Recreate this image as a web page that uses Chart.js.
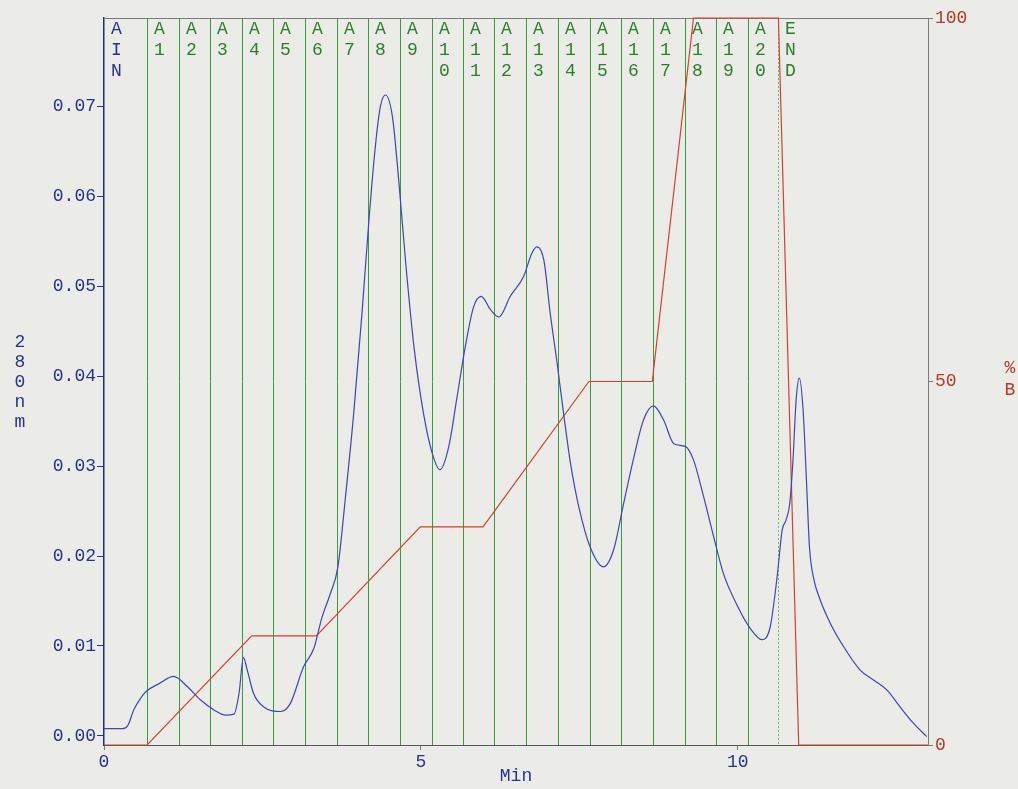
<!DOCTYPE html>
<html>
<head>
<meta charset="utf-8">
<title>280 nm / %B</title>
<script src="https://cdn.jsdelivr.net/npm/chart.js@4/dist/chart.umd.min.js"></script>
<style>
  html, body { margin: 0; padding: 0; background: #ebebe7; }
  canvas { display: block; }
</style>
</head>
<body>
<canvas id="chart" width="1018" height="789"></canvas>
<script>
// Absorbance trace at 280 nm (min, AU)
const absTime = [0, 0.30, 0.38, 0.47, 0.58, 0.66, 0.87, 1.10, 1.31, 1.52, 1.73, 1.92, 2.05, 2.13, 2.20, 2.26, 2.36, 2.52, 2.79, 2.94,
  3.15, 3.31, 3.44, 3.57, 3.69, 3.81, 3.94, 4.07, 4.18, 4.28, 4.36, 4.44, 4.55, 4.65, 4.76, 4.89, 5.04, 5.18, 5.30, 5.44,
  5.57, 5.70, 5.83, 5.95, 6.10, 6.23, 6.41, 6.62, 6.75, 6.83, 6.94, 7.04, 7.15, 7.25, 7.36, 7.49, 7.67, 7.88, 8.04, 8.20,
  8.36, 8.51, 8.67, 8.83, 8.99, 9.17, 9.30, 9.46, 9.62, 9.77, 9.99, 10.20, 10.38, 10.51, 10.62, 10.70, 10.76, 10.82, 10.87, 10.92,
  10.97, 11.03, 11.08, 11.13, 11.19, 11.30, 11.46, 11.67, 11.93, 12.14, 12.35, 12.56, 12.77, 12.98];
const absValue = [0.0008, 0.0008, 0.0012, 0.0029, 0.0042, 0.0049, 0.0058, 0.0066, 0.0055, 0.0040, 0.0029, 0.0023, 0.0024, 0.0047, 0.0087, 0.0073, 0.0047, 0.0032, 0.0027, 0.0036,
  0.0077, 0.0097, 0.0132, 0.0158, 0.0188, 0.0266, 0.0359, 0.0470, 0.0574, 0.0655, 0.0700, 0.0713, 0.0689, 0.0618, 0.0526, 0.0433, 0.0359, 0.0314, 0.0296, 0.0322,
  0.0377, 0.0433, 0.0477, 0.0489, 0.0474, 0.0466, 0.0489, 0.0511, 0.0537, 0.0544, 0.0529, 0.0470, 0.0414, 0.0359, 0.0303, 0.0255, 0.0210, 0.0188, 0.0207, 0.0259,
  0.0310, 0.0351, 0.0367, 0.0351, 0.0325, 0.0322, 0.0307, 0.0266, 0.0221, 0.0181, 0.0145, 0.0119, 0.0107, 0.0121, 0.0177, 0.0229, 0.0240, 0.0259, 0.0307, 0.0374,
  0.0398, 0.0362, 0.0288, 0.0210, 0.0177, 0.0151, 0.0125, 0.0099, 0.0073, 0.0062, 0.0051, 0.0032, 0.0014, -0.0001];

// Gradient program (%B)
const gradTime = [0, 0.68, 2.33, 3.35, 4.99, 5.98, 7.65, 8.65, 9.30, 10.64, 10.96, 13];
const gradValue = [0, 0, 15, 15, 30, 30, 50, 50, 100, 100, 0, 0];

// Fraction marks
const fractionTime = [0, 0.68, 1.18, 1.67, 2.17, 2.67, 3.17, 3.67, 4.17, 4.67, 5.17, 5.66, 6.16, 6.66, 7.16, 7.66, 8.16, 8.66, 9.16, 9.66, 10.16, 10.64];
const fractionLabel = ['AIN', 'A1', 'A2', 'A3', 'A4', 'A5', 'A6', 'A7', 'A8', 'A9', 'A10', 'A11', 'A12', 'A13', 'A14', 'A15', 'A16', 'A17', 'A18', 'A19', 'A20', 'END'];

// Axis ticks
const absTicks = [0, 0.01, 0.02, 0.03, 0.04, 0.05, 0.06, 0.07];
const gradTicks = [0, 50, 100];
const timeTicks = [0, 5, 10];

const FONT = "'Liberation Mono', 'DejaVu Sans Mono', monospace";
const BLUE_TEXT = '#2a3196';
const BLUE_LINE = '#3d47b2';
const GREEN_LINE = '#35a035';
const GREEN_TEXT = '#2b7f2b';
const RED_LINE = '#d5402f';
const RED_TEXT = '#b83a2b';
const FRAME = '#7c7c7c';

function stacked(ctx, text, x, y0, step, color) {
  ctx.fillStyle = color;
  [...text].forEach((ch, i) => ctx.fillText(ch, x, y0 + i * step));
}

const fractionPlugin = {
  id: 'fractions',
  beforeDatasetsDraw(chart) {
    const { ctx, chartArea } = chart;
    const xs = chart.scales.x;
    ctx.save();
    // top frame
    ctx.strokeStyle = FRAME;
    ctx.lineWidth = 1;
    ctx.beginPath();
    ctx.moveTo(chartArea.left, chartArea.top + 0.5);
    ctx.lineTo(chartArea.right, chartArea.top + 0.5);
    ctx.stroke();

    fractionTime.forEach((t, i) => {
      const px = Math.round(xs.getPixelForValue(t)) + 0.5;
      const isEnd = i === fractionTime.length - 1;
      if (i > 0) {
        ctx.strokeStyle = isEnd ? '#6cc06c' : GREEN_LINE;
        ctx.lineWidth = 1;
        ctx.setLineDash(isEnd ? [2, 2] : []);
        ctx.beginPath();
        ctx.moveTo(px, chartArea.top);
        ctx.lineTo(px, chartArea.bottom);
        ctx.stroke();
      }
      ctx.setLineDash([]);
      ctx.font = '18px ' + FONT;
      ctx.textAlign = 'center';
      ctx.textBaseline = 'alphabetic';
      stacked(ctx, fractionLabel[i], px + 12, 34, 20.8, i === 0 ? BLUE_TEXT : GREEN_TEXT);
    });
    ctx.restore();
  },
  afterDraw(chart) {
    const { ctx } = chart;
    ctx.save();
    ctx.font = '18px ' + FONT;
    ctx.textAlign = 'center';
    ctx.textBaseline = 'alphabetic';
    stacked(ctx, '280nm', 20, 347, 20, BLUE_TEXT);
    stacked(ctx, '%B', 1010, 373, 22, RED_TEXT);
    ctx.restore();
  }
};

const ctx = document.getElementById('chart').getContext('2d');
new Chart(ctx, {
  type: 'line',
  data: {
    datasets: [
      {
        label: '280nm',
        data: absTime.map((t, i) => ({ x: t, y: absValue[i] })),
        yAxisID: 'y',
        borderColor: BLUE_LINE,
        borderWidth: 1.2,
        pointRadius: 0,
        cubicInterpolationMode: 'monotone',
        clip: 4
      },
      {
        label: '%B',
        data: gradTime.map((t, i) => ({ x: t, y: gradValue[i] })),
        yAxisID: 'y2',
        borderColor: RED_LINE,
        borderWidth: 1.2,
        pointRadius: 0,
        tension: 0,
        clip: 4
      }
    ]
  },
  options: {
    responsive: false,
    animation: false,
    devicePixelRatio: 1,
    layout: { padding: { top: 18, left: 0, right: 0, bottom: 0 } },
    plugins: { legend: { display: false }, tooltip: { enabled: false } },
    scales: {
      x: {
        type: 'linear',
        min: 0,
        max: 13,
        afterBuildTicks: s => { s.ticks = timeTicks.map(v => ({ value: v })); },
        afterFit: s => { s.height = 44; },
        ticks: { color: BLUE_TEXT, font: { family: FONT, size: 18 }, padding: 1, maxRotation: 0 },
        grid: { drawOnChartArea: false, drawTicks: true, tickLength: 5, color: FRAME },
        border: { color: '#555555', width: 1 },
        title: { display: true, text: 'Min', color: BLUE_TEXT, font: { family: FONT, size: 18 }, align: 'center', padding: { top: 0, bottom: 2 } }
      },
      y: {
        position: 'left',
        min: -0.00103,
        max: 0.07987,
        afterBuildTicks: s => { s.ticks = absTicks.map(v => ({ value: v })); },
        afterFit: s => { s.width = 104; },
        ticks: { color: BLUE_TEXT, font: { family: FONT, size: 18 }, padding: 1, callback: v => v.toFixed(2) },
        grid: { drawOnChartArea: false, drawTicks: true, tickLength: 7, color: BLUE_TEXT },
        border: { color: '#232a80', width: 1.5 }
      },
      y2: {
        position: 'right',
        min: 0,
        max: 100,
        afterBuildTicks: s => { s.ticks = gradTicks.map(v => ({ value: v })); },
        afterFit: s => { s.width = 90; },
        ticks: { color: RED_TEXT, font: { family: FONT, size: 18 }, padding: 2 },
        grid: { drawOnChartArea: false, drawTicks: true, tickLength: 5, color: FRAME },
        border: { color: FRAME, width: 1 }
      }
    }
  },
  plugins: [fractionPlugin]
});
</script>
</body>
</html>
